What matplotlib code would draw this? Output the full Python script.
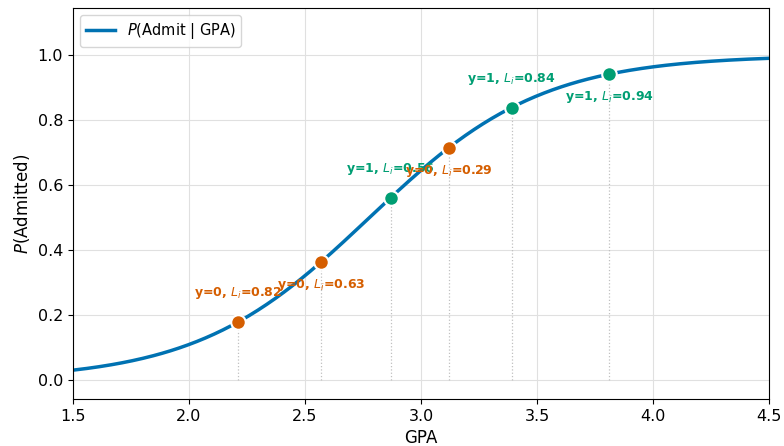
import numpy as np
import matplotlib
matplotlib.use("Agg")
import matplotlib.pyplot as plt

# fitted logistic model P(admit | gpa) = 1 / (1 + exp(-(b0 + b1 * gpa)))
b0 = -7.47
b1 = 2.69

# observed students and their likelihood contributions
gpa_obs = [2.21, 2.57, 2.87, 3.12, 3.39, 3.81]
y_obs = [0, 0, 1, 0, 1, 1]
lik_obs = [0.82, 0.63, 0.56, 0.29, 0.84, 0.94]

blue = "#0072B2"
orange = "#D55E00"
green = "#009E73"


def p_admit(x):
    return 1.0 / (1.0 + np.exp(-(b0 + b1 * np.asarray(x))))


fig = plt.figure(figsize=(7.84, 4.46), dpi=100)
ax = fig.add_axes([0.093, 0.105, 0.888, 0.877])

xs = np.linspace(1.5, 4.5, 400)
ax.plot(xs, p_admit(xs), color=blue, lw=2.5, label=r"$P$(Admit | GPA)", zorder=2)

p_obs = p_admit(gpa_obs)
for i, (g, y, p, lik) in enumerate(zip(gpa_obs, y_obs, p_obs, lik_obs)):
    col = green if y == 1 else orange
    ax.vlines(g, 0, p, colors="#c0c0c0", linestyles=":", lw=0.9, zorder=1)
    ax.scatter(g, p, s=110, color=col, edgecolor="white", linewidth=1.5, zorder=3)
    if i % 2 == 0:
        off, va = 15, "bottom"
    else:
        off, va = -11, "top"
    ax.annotate(f"y={y}, $L_i$={lik:.2f}", (g, p), xytext=(0, off),
                textcoords="offset points", ha="center", va=va,
                fontsize=9, fontweight="bold", color=col, zorder=4)

ax.set_xlim(1.5, 4.5)
ax.set_ylim(-0.058, 1.145)
ax.set_yticks([0.0, 0.2, 0.4, 0.6, 0.8, 1.0])
ax.grid(True, color="#e0e0e0", lw=0.8)
ax.set_axisbelow(True)
ax.tick_params(labelsize=11.5)
ax.set_xlabel("GPA", fontsize=12)
ax.set_ylabel(r"$P$(Admitted)", fontsize=12)
ax.legend(loc="upper left", fontsize=10.5)

fig.savefig("out.png", dpi=100)
